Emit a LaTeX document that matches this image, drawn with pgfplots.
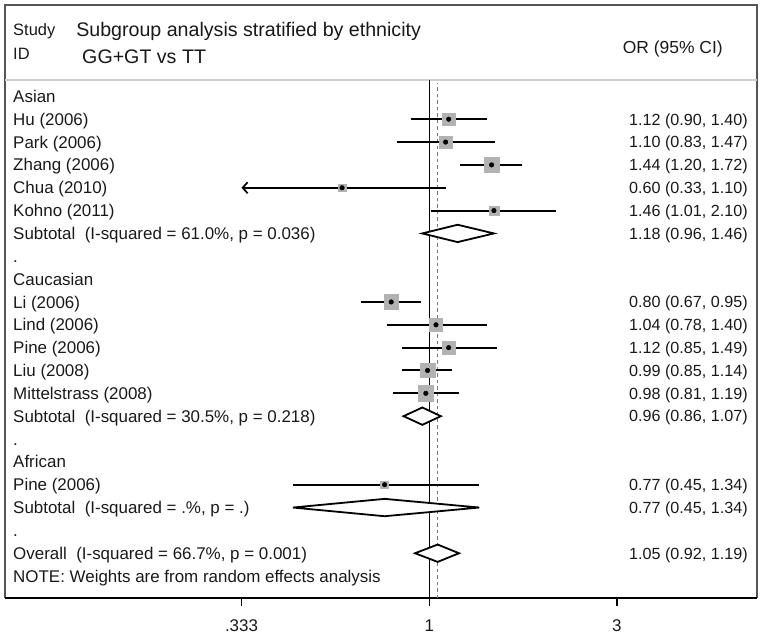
\documentclass[border=0pt]{standalone}
\usepackage{pgfplots}
\pgfplotsset{compat=1.18}
\usepackage{fontspec}
\setmainfont{Liberation Sans}
\usetikzlibrary{arrows.meta}
\definecolor{sqgray}{RGB}{178,178,178}
\definecolor{framegray}{RGB}{85,85,85}
\definecolor{sepgray}{RGB}{205,205,205}
\definecolor{dashgray}{RGB}{120,120,120}
\definecolor{txt}{RGB}{25,25,25}
\newcommand{\labfont}{\fontsize{17}{19}\selectfont}
\newcommand{\numfont}{\fontsize{16.2}{18}\selectfont}
\newcommand{\titfont}{\fontsize{19.7}{22}\selectfont}
\tikzset{
  lab/.style={anchor=base west, inner sep=0pt, yshift=-6.1bp, font=\labfont, text=txt},
  rlab/.style={anchor=base east, inner sep=0pt, yshift=-5.8bp, font=\numfont, text=txt},
  tit/.style={anchor=base west, inner sep=0pt, yshift=-7.05bp, font=\titfont, text=txt},
}
\newcommand{\lt}[2]{\node[lab] at (axis cs:0.0874,#1) {#2};}
\newcommand{\rt}[2]{\node[rlab] at (axis cs:6.458,#1) {#2};}
\begin{document}
\begin{tikzpicture}
\begin{axis}[
  scale only axis, width=752bp, height=593bp,
  xmode=log, xmin=0.08338, xmax=6.812, ymin=0.04, ymax=26.0,
  axis x line=bottom,
  hide y axis,
  x axis line style={black, line width=1.7bp, -},
  clip=false,
  xtick={0.333,1,3}, xticklabels={.333,1,3},
  tick align=outside,
  major tick length=0bp,
  xticklabel style={font=\labfont, text=txt, yshift=-18bp},
  log ticks with fixed point,
]
% frame
\draw[framegray, line width=1.2bp] (rel axis cs:0,0) -- (rel axis cs:0,1) -- (rel axis cs:1,1) -- (rel axis cs:1,0);
\draw[sepgray, line width=1.5bp] (axis cs:0.08338,22.72) -- (axis cs:6.812,22.72);
\draw[black, line width=1.7bp] (rel axis cs:0,0) -- (rel axis cs:1,0);
\draw[black, line width=1.3bp] (axis cs:0.333,0.04) -- (axis cs:0.333,-0.31);
\draw[black, line width=1.3bp] (axis cs:1,0.04) -- (axis cs:1,-0.31);
\draw[black, line width=1.3bp] (axis cs:3,0.04) -- (axis cs:3,-0.31);
\coordinate (BL) at (rel axis cs:0,0);
\coordinate (TR) at (rel axis cs:1,1);

% reference lines
\addplot[black, line width=1.2bp] coordinates {(1,0.04) (1,22.72)};
\addplot[dashgray, line width=1.1bp, dash pattern=on 3.5bp off 3bp] coordinates {(1.05,0.04) (1.05,22.6)};

% weight squares
\addplot[scatter, only marks, mark=square*, point meta=y,
  scatter/use mapped color={draw=sqgray, fill=sqgray},
  visualization depends on={\thisrow{s} \as \msz},
  scatter/@pre marker code/.append style={/tikz/mark size=\msz}]
  table {
x y s
1.12 21 6.3
1.10 20 6.3
1.44 19 7.7
0.60 18 3.9
1.46 17 4.9
0.80 13 7.5
1.04 12 6.5
1.12 11 6.3
0.99 10 7.2
0.98 9 7.7
0.77 5 4.0
};

% confidence intervals
\addplot[black, line width=2bp] coordinates {(0.90,21) (1.40,21)};
\addplot[black, line width=2bp] coordinates {(0.83,20) (1.47,20)};
\addplot[black, line width=2bp] coordinates {(1.20,19) (1.72,19)};
\addplot[black, line width=2bp, -{Straight Barb[length=5bp,width=11bp,line width=1.7bp]}] coordinates {(1.10,18) (0.333,18)};
\addplot[black, line width=2bp] coordinates {(1.01,17) (2.10,17)};
\addplot[black, line width=2bp] coordinates {(0.67,13) (0.95,13)};
\addplot[black, line width=2bp] coordinates {(0.78,12) (1.40,12)};
\addplot[black, line width=2bp] coordinates {(0.85,11) (1.49,11)};
\addplot[black, line width=2bp] coordinates {(0.85,10) (1.14,10)};
\addplot[black, line width=2bp] coordinates {(0.81,9) (1.19,9)};
\addplot[black, line width=2bp] coordinates {(0.45,5) (1.34,5)};

% point estimates
\addplot[only marks, mark=*, mark size=2.3bp, black] table {
x y
1.12 21
1.10 20
1.44 19
0.60 18
1.46 17
0.80 13
1.04 12
1.12 11
0.99 10
0.98 9
0.77 5
};

% diamonds
\addplot[black, line width=1.8bp, fill=white] coordinates {(0.96,16) (1.18,16.38) (1.46,16) (1.18,15.62)} -- cycle;
\addplot[black, line width=1.8bp, fill=white] coordinates {(0.86,8) (0.96,8.38) (1.07,8) (0.96,7.62)} -- cycle;
\addplot[black, line width=1.8bp, fill=white] coordinates {(0.45,4) (0.77,4.38) (1.34,4) (0.77,3.62)} -- cycle;
\addplot[black, line width=1.8bp, fill=white] coordinates {(0.92,2) (1.05,2.38) (1.19,2) (1.05,1.62)} -- cycle;

% header
\node[lab, font=\fontsize{16.5}{18}\selectfont] at (axis cs:0.0874,24.91) {Study};
\node[lab, font=\fontsize{16.5}{18}\selectfont] at (axis cs:0.0874,23.86) {ID};
\node[tit] at (axis cs:0.1264,24.91) {Subgroup analysis stratified by ethnicity};
\node[tit] at (axis cs:0.1309,23.73) {GG+GT vs TT};
\node[rlab, font=\fontsize{17.5}{19}\selectfont, yshift=-0.4bp] at (axis cs:5.579,24.165) {OR (95\% CI)};

% left labels
\lt{22}{Asian}
\lt{21}{Hu (2006)}
\lt{20}{Park (2006)}
\lt{19}{Zhang (2006)}
\lt{18}{Chua (2010)}
\lt{17}{Kohno (2011)}
\lt{16}{Subtotal\ \ (I-squared = 61.0\%, p = 0.036)}
\lt{15}{.}
\lt{14}{Caucasian}
\lt{13}{Li (2006)}
\lt{12}{Lind (2006)}
\lt{11}{Pine (2006)}
\lt{10}{Liu (2008)}
\lt{9}{Mittelstrass (2008)}
\lt{8}{Subtotal\ \ (I-squared = 30.5\%, p = 0.218)}
\lt{7}{.}
\lt{6}{African}
\lt{5}{Pine (2006)}
\lt{4}{Subtotal\ \ (I-squared = .\%, p = .)}
\lt{3}{.}
\lt{2}{Overall\ \ (I-squared = 66.7\%, p = 0.001)}
\lt{1}{NOTE: Weights are from random effects analysis}

% right labels
\rt{21}{1.12 (0.90, 1.40)}
\rt{20}{1.10 (0.83, 1.47)}
\rt{19}{1.44 (1.20, 1.72)}
\rt{18}{0.60 (0.33, 1.10)}
\rt{17}{1.46 (1.01, 2.10)}
\rt{16}{1.18 (0.96, 1.46)}
\rt{13}{0.80 (0.67, 0.95)}
\rt{12}{1.04 (0.78, 1.40)}
\rt{11}{1.12 (0.85, 1.49)}
\rt{10}{0.99 (0.85, 1.14)}
\rt{9}{0.98 (0.81, 1.19)}
\rt{8}{0.96 (0.86, 1.07)}
\rt{5}{0.77 (0.45, 1.34)}
\rt{4}{0.77 (0.45, 1.34)}
\rt{2}{1.05 (0.92, 1.19)}
\end{axis}
\pgfresetboundingbox
\path[use as bounding box] ([xshift=-5bp,yshift=-36bp]BL) rectangle ([xshift=6bp,yshift=5bp]TR);
\end{tikzpicture}
\end{document}
